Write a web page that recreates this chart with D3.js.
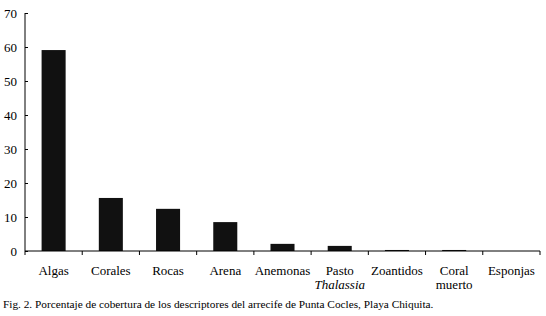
<!DOCTYPE html>
<html>
<head>
<meta charset="utf-8">
<script src="https://cdn.jsdelivr.net/npm/d3@7"></script>
<style>
  body { margin: 0; background: #fff; }
</style>
</head>
<body>
<div id="chart"></div>
<script>
// Cover percentage by reef descriptor, Punta Cocles
const categories = ["Algas", "Corales", "Rocas", "Arena", "Anemonas", "Pasto|Thalassia", "Zoantidos", "Coral|muerto", "Esponjas"];
const values = [59.1, 15.6, 12.4, 8.5, 2.1, 1.5, 0.3, 0.3, 0];
const yTicks = [0, 10, 20, 30, 40, 50, 60, 70];
const caption = "Fig. 2. Porcentaje de cobertura de los descriptores del arrecife de Punta Cocles, Playa Chiquita.";

const W = 546, H = 316;
const margin = { top: 13, right: 6, bottom: 65, left: 25 };
const FONT = "\"Liberation Serif\"";

const svg = d3.select("#chart").append("svg").attr("width", W).attr("height", H);

const x = d3.scaleBand().domain(categories)
  .range([margin.left, W - margin.right]).paddingInner(0.58).paddingOuter(0.29);
const y = d3.scaleLinear().domain([0, 70]).range([H - margin.bottom, margin.top]);

// Bars
svg.append("g").selectAll("rect").data(values).join("rect")
  .attr("x", (d, i) => x(categories[i]))
  .attr("y", d => y(d))
  .attr("width", x.bandwidth())
  .attr("height", d => y(0) - y(d))
  .attr("fill", "#111");

// Y axis
const gy = svg.append("g").attr("transform", `translate(${margin.left},0)`)
  .call(d3.axisLeft(y).tickValues(yTicks).tickSize(3).tickPadding(5));
gy.selectAll(".tick line").attr("x2", 3);
gy.select(".domain").attr("d", `M0,${y(70)}V${y(0)}`);
gy.selectAll("text").attr("fill", "#000")
  .style("font-family", FONT).style("font-size", "13px");

// X axis with boundary ticks
const step = x.step();
const x0 = margin.left, x1 = W - margin.right;
const gx = svg.append("g").attr("transform", `translate(0,${y(0)})`);
gx.append("line").attr("x1", x0).attr("x2", x1).attr("stroke", "#000");
gx.selectAll("line.tk").data(d3.range(categories.length + 1)).join("line")
  .attr("class", "tk")
  .attr("x1", i => x0 + i * step).attr("x2", i => x0 + i * step)
  .attr("y1", 0).attr("y2", 4).attr("stroke", "#000");

const labels = gx.selectAll("text").data(categories).join("text")
  .attr("x", d => x(d) + x.bandwidth() / 2)
  .attr("text-anchor", "middle")
  .attr("fill", "#000")
  .style("font-family", FONT).style("font-size", "13px");
labels.each(function(d) {
  const parts = d.split("|");
  const t = d3.select(this);
  parts.forEach((p, k) => {
    t.append("tspan").attr("x", x(d) + x.bandwidth() / 2)
      .attr("y", 24 + k * 14)
      .style("font-style", p === "Thalassia" ? "italic" : null)
      .text(p);
  });
});

svg.selectAll(".tick line, .domain").attr("stroke", "#000");

// Caption
svg.append("text").attr("x", 3).attr("y", 308)
  .attr("fill", "#000")
  .style("font-family", FONT).style("font-size", "11.3px")
  .text(caption);
</script>
</body>
</html>
